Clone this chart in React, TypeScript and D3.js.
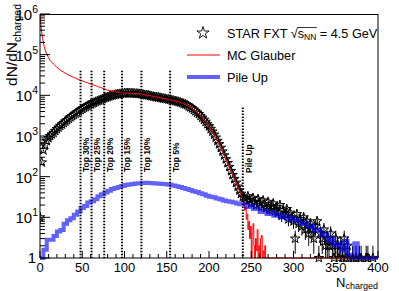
import React, { useLayoutEffect, useRef, useState } from "react";
import * as d3 from "d3";

// ---------- data ----------
// STAR FXT data: bin positions (every 2 units) and counts
const dataN = d3.range(0, 398, 2);
const dataCounts = [
  10, 224, 447, 603, 759, 891, 1000, 1096, 1202, 1334, 1479, 1622, 1778, 1928, 2089, 2265, 2455, 2661, 2884, 3090,
  3311, 3548, 3802, 4074, 4365, 4624, 4898, 5188, 5495, 5754, 6026, 6310, 6607, 6918, 7244, 7499, 7762, 8128, 8511, 8810,
  9120, 9441, 9772, 10000, 10233, 10471, 10715, 10839, 10965, 11092, 11220, 11272, 11350, 11298, 11220, 11170, 11092, 11015, 10965, 10839,
  10715, 10471, 10233, 10116, 10000, 9772, 9550, 9333, 9120, 9016, 8913, 8710, 8511, 8356, 8222, 8091, 7943, 7762, 7586, 7413,
  7244, 7079, 6918, 6683, 6457, 6237, 6026, 5754, 5370, 5070, 4786, 4416, 4074, 3758, 3467, 3126, 2818, 2512, 2239, 1972,
  1738, 1496, 1288, 1084, 912, 759, 631, 513, 417, 335, 269, 216, 174, 138, 110, 88, 71, 57, 46, 38,
  32,
  30, 25, 33, 27, 22, 30, 24, 20, 28, 23, 18, 26, 21, 17, 24, 15, 19, 22, 14, 18,
  13, 20, 11, 15, 12, 16, 9, 13, 10, 8, 3, 12, 7, 9, 6, 10, 5, 8, 4, 7,
  5, 3, 6, 8, 1, 4, 3, 5, 2, 3, 2, 4, 2, 1, 3, 2, 1, 2, 1, 3,
  1, 2, 1, 0, 1, 0, 1, 0, 1, 1, 0, 0, 1, 1, 0, 0, 1, 0,
];

// MC Glauber (smooth part)
const glauberN = [0, 1, 2, 3, 4, 5, 6, 8, 10, 12, 14, 16, 20, 24, 28, 32, 36, 40, 44, 48, 52, 56, 60, 64, 68, 72, 76, 80, 84, 88, 92, 96,
  100, 104, 108, 112, 116, 120, 124, 128, 132, 136, 140, 144, 148, 152, 156, 160, 164, 168, 172, 176, 180, 184, 188, 192, 196, 200,
  204, 208, 212, 216, 220, 224, 228, 232, 236, 240];
const glauberCounts = [950000, 560000, 355000, 250000, 200000, 158000, 132000, 105000, 85000, 72000, 65000, 59000, 49000, 41700, 37000,
  33000, 30000, 27500, 25100, 23400, 21900, 20400, 19000, 17800, 16600, 15500, 14500, 13500, 12900, 12300, 11900, 11600,
  11400, 11350, 11250, 11100, 10950, 10750, 10300, 10050, 9600, 9200, 8950, 8550, 8250, 7950, 7600, 7250, 6900, 6450, 6000, 5400,
  4800, 4100, 3450, 2800, 2230, 1720, 1280, 900, 620, 410, 265, 170, 108, 70, 45, 28];
// MC Glauber (tail, unit bins)
const glauberTailN = [240, 241, 242, 243, 244, 245, 246, 247, 248, 249, 250, 251, 252, 253, 254, 255, 256, 257, 258, 259, 260,
  261, 262, 263, 264, 265, 266, 267, 268, 269, 270, 400];
const glauberTailCounts = [27, 22, 15, 18, 9, 12, 5, 8, 3, 6, 0, 4, 7, 2, 0, 3, 1.5, 5, 0, 2, 0, 3, 3.6, 0, 1.5, 0, 2, 0, 0, 0, 0, 0];

// Pile up (4-unit bins)
const pileN = d3.range(0, 400, 4);
const pileCounts = [
  1, 1.6, 2.8, 2.8, 3.5, 4.5, 4.9, 7.0, 8.5, 9.5, 11.5, 14, 17, 19, 23, 25, 28, 33, 37, 41,
  45, 50, 53, 56, 59, 62, 64, 66, 68, 69, 70, 71, 70, 69, 68, 67, 66, 65, 63, 61,
  58, 56, 53, 50, 47, 44, 42, 39, 37, 34, 32, 31, 29, 28, 26, 25, 24, 23, 22, 21,
  21, 18, 19.5, 16, 16.5, 13.5, 14.5, 12, 13, 11, 12, 10, 10.8, 9, 9.6, 8.2, 8.5, 7, 7.2, 5.8,
  6, 4.8, 5, 3.6, 3.8, 2.6, 3, 2, 2.2, 1.5, 2.6, 1.2, 0, 2.3, 0, 0, 0, 0, 0, 0,
];

// centrality cuts
const cutN = [48, 61, 76, 97, 120, 154];
const cutLabels = ["Top 30%", "Top 25%", "Top 20%", "Top 15%", "Top 10%", "Top 5%"];
const cutTop = 4e4;
const pileCutN = 240;
const pileCutLabel = "Pile Up";
const pileCutTop = 5e3;

const xTickValues = [0, 50, 100, 150, 200, 250, 300, 350, 400];
const xTickLabels = ["0", "50", "100", "150", "200", "250", "300", "350", "400"];
const yTickValues = [1, 10, 100, 1000, 1e4, 1e5, 1e6];
const yTickExps = ["", "1", "2", "3", "4", "5", "6"];

const legendLabels = ["MC Glauber", "Pile Up"];

const FONT = "'Liberation Sans', Arial, Helvetica, sans-serif";
const BLUE = "rgba(0,0,255,0.62)";

export default function App() {
  const x = d3.scaleLinear().domain([0, 400]).range([40, 378]);
  const y = d3.scaleLog().domain([1, 1e6]).range([258, 14]);
  const yc = (v: number) => y(Math.max(v, 1));

  const starSmall = d3.symbol().type(d3.symbolStar).size(28)() as string;
  const starBig = d3.symbol().type(d3.symbolStar).size(46)() as string;

  const redLine = d3
    .line<number>()
    .x((_, i) => x(glauberN[i]))
    .y((_, i) => yc(glauberCounts[i]))(glauberCounts) as string;
  const redTail = d3
    .line<number>()
    .curve(d3.curveStepAfter)
    .x((_, i) => x(glauberTailN[i]))
    .y((_, i) => yc(glauberTailCounts[i]))(glauberTailCounts) as string;
  const pilePts: [number, number][] = pileN.map((n, i) => [n, pileCounts[i]]);
  pilePts.push([400, pileCounts[pileCounts.length - 1]]);
  const blueLine = d3
    .line<[number, number]>()
    .curve(d3.curveStepAfter)
    .x((d) => x(d[0]))
    .y((d) => yc(d[1]))(pilePts) as string;

  const yMinor = y.ticks().filter((t) => !yTickValues.includes(t));
  const xMinor = x.ticks(40).filter((t) => t % 50 !== 0);

  const textRef = useRef<SVGTextElement>(null);
  const [ol, setOl] = useState({ x1: 279, x2: 297 });
  useLayoutEffect(() => {
    const t = textRef.current;
    if (!t) return;
    try {
      const a = t.getEndPositionOfChar(9).x;
      const b = t.getEndPositionOfChar(12).x;
      setOl({ x1: a - 0.5, x2: b + 0.5 });
    } catch (e) {}
  }, []);

  return (
    <svg
      width={399}
      height={291}
      style={{ position: "absolute", left: 0, top: 0, background: "#fff" }}
      fontFamily={FONT}
    >
      <defs>
        <clipPath id="plot">
          <rect x={40} y={14} width={338} height={248} />
        </clipPath>
      </defs>
      <rect x={0} y={0} width={399} height={291} fill="#fff" />

      <g clipPath="url(#plot)">
        {/* data error bars */}
        {dataN.map((n, i) => {
          const v = dataCounts[i];
          if (!(v > 0)) return null;
          const e = Math.sqrt(v);
          return (
            <line key={"e" + i} x1={x(n)} x2={x(n)} y1={yc(v - e)} y2={yc(v + e)} stroke="#000" strokeWidth={1} />
          );
        })}
        {/* data stars */}
        {dataN.map((n, i) => {
          const v = dataCounts[i];
          if (!(v > 0)) return null;
          return (
            <path key={"s" + i} d={starSmall} transform={`translate(${x(n)},${yc(v)})`} fill="none" stroke="#000" strokeWidth={1} />
          );
        })}
        {/* MC Glauber */}
        <path d={redLine} fill="none" stroke="#ff0000" strokeWidth={1} />
        <path d={redTail} fill="none" stroke="#ff0000" strokeWidth={1} />
        {/* Pile up */}
        <path d={blueLine} fill="none" stroke={BLUE} strokeWidth={4} />
      </g>

      {/* cut lines */}
      {cutN.map((n, i) => (
        <g key={"c" + i}>
          <line x1={x(n)} x2={x(n)} y1={y(cutTop)} y2={258} stroke="#000" strokeWidth={2} strokeDasharray="1.5,1.5" />
          <text
            transform={`translate(${x(n) + 8.5},172) rotate(-90)`}
            fontSize={8.5}
            fontWeight="bold"
            textAnchor="start"
            fill="#000"
          >
            {cutLabels[i]}
          </text>
        </g>
      ))}
      <line x1={x(pileCutN)} x2={x(pileCutN)} y1={y(pileCutTop)} y2={258} stroke="#000" strokeWidth={2} strokeDasharray="1.5,1.5" />
      <text
        transform={`translate(${x(pileCutN) + 9},173) rotate(-90)`}
        fontSize={8.5}
        fontWeight="bold"
        textAnchor="start"
        fill="#000"
      >
        {pileCutLabel}
      </text>

      {/* frame */}
      <line x1={40} x2={378} y1={14.5} y2={14.5} stroke="#000" strokeWidth={1} />
      <line x1={378} x2={378} y1={14} y2={258} stroke="#000" strokeWidth={1} />
      <line x1={40} x2={40} y1={14} y2={258} stroke="#000" strokeWidth={1} />
      <line x1={40} x2={378} y1={258} y2={258} stroke="#000" strokeWidth={1} />

      {/* y ticks */}
      {yTickValues.map((t, i) => (
        <line key={"ym" + i} x1={40} x2={50} y1={y(t)} y2={y(t)} stroke="#000" strokeWidth={1} />
      ))}
      {yMinor.map((t, i) => (
        <line key={"yn" + i} x1={40} x2={45} y1={y(t)} y2={y(t)} stroke="#000" strokeWidth={1} />
      ))}
      {yTickValues.map((t, i) => (
        <text
          key={"yl" + i}
          x={i === 0 ? 36 : 38}
          y={i === 0 ? y(t) + 4.5 : y(t) + 6}
          fontSize={15}
          textAnchor="end"
          fill="#000"
        >
          {i === 0 ? "1" : "10"}
          {i === 0 ? null : (
            <tspan fontSize={10.5} dy={-7}>
              {yTickExps[i]}
            </tspan>
          )}
        </text>
      ))}

      {/* x ticks */}
      {xTickValues.map((t, i) => (
        <line key={"xm" + i} x1={x(t)} x2={x(t)} y1={258} y2={251} stroke="#000" strokeWidth={1} />
      ))}
      {xMinor.map((t, i) => (
        <line key={"xn" + i} x1={x(t)} x2={x(t)} y1={258} y2={254} stroke="#000" strokeWidth={1} />
      ))}
      {xTickLabels.map((lab, i) => (
        <text key={"xl" + i} x={x(xTickValues[i])} y={272} fontSize={13} textAnchor="middle" fill="#000">
          {lab}
        </text>
      ))}

      {/* axis titles */}
      <text x={378} y={287} fontSize={13} textAnchor="end" fill="#000">
        N<tspan fontSize={9} dy={2}>charged</tspan>
      </text>
      <text transform="translate(17,4) rotate(-90)" fontSize={15.5} textAnchor="end" fill="#000">
        dN/dN<tspan fontSize={10.5} dy={3.5}>charged</tspan>
      </text>

      {/* legend */}
      <path d={starBig} transform="translate(203,33)" fill="none" stroke="#000" strokeWidth={0.9} />
      <text ref={textRef} x={227} y={37.5} fontSize={12.7} fill="#000">
        <tspan>STAR FXT </tspan>
        <tspan>√</tspan>
        <tspan>s</tspan>
        <tspan fontSize={8.5} dy={2.5}>NN</tspan>
        <tspan dy={-2.5}> = 4.5 GeV</tspan>
      </text>
      <line x1={ol.x1} x2={ol.x2} y1={27.5} y2={27.5} stroke="#000" strokeWidth={0.8} />
      <line x1={187} x2={220} y1={55} y2={55} stroke="#ff0000" strokeWidth={1} />
      <text x={227} y={59.5} fontSize={12.7} fill="#000">
        {legendLabels[0]}
      </text>
      <line x1={187} x2={220} y1={77} y2={77} stroke={BLUE} strokeWidth={4} />
      <text x={227} y={81.5} fontSize={12.7} fill="#000">
        {legendLabels[1]}
      </text>
    </svg>
  );
}
